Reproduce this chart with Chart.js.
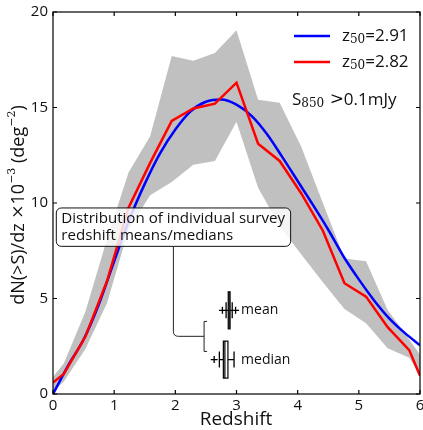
<!DOCTYPE html>
<html>
<head>
<meta charset="utf-8">
<script src="https://cdn.jsdelivr.net/npm/chart.js@4.4.1/dist/chart.umd.min.js"></script>
<style>
html, body { margin: 0; padding: 0; background: #fff; }
#wrap { width: 423px; height: 430px; position: relative; }
</style>
</head>
<body>
<div id="wrap"><canvas id="myChart"></canvas></div>
<script>
const SANS = '"Open Sans", "DejaVu Sans", sans-serif';
const SERIF = '"DejaVu Serif", "Liberation Serif", serif';

// redshift bins (17 bins over 0..6) plus the two ends
const binX = [0, 0.176, 0.529, 0.882, 1.235, 1.588, 1.941, 2.294, 2.647, 3.0, 3.353, 3.706, 4.059, 4.412, 4.765, 5.118, 5.471, 5.824, 6];
const bandUpper = [0.9, 1.6, 4.3, 8.1, 11.6, 13.5, 17.7, 17.45, 17.85, 19.05, 15.4, 15.25, 12.95, 10.0, 7.1, 6.95, 4.4, 2.85, 2.05];
const bandLower = [0.1, 0.65, 2.35, 4.75, 8.6, 10.4, 11.1, 12.0, 12.2, 14.25, 10.8, 8.8, 7.3, 5.85, 4.45, 3.7, 2.4, 1.9, 1.0];
const redY = [0.6, 1.05, 3.0, 5.9, 9.75, 12.1, 14.3, 14.95, 15.2, 16.3, 13.1, 12.2, 10.5, 8.55, 5.8, 5.1, 3.5, 2.3, 0.95];

// smooth model curve
const blueX = [0, 0.25, 0.5, 0.75, 1, 1.25, 1.5, 1.75, 2, 2.25, 2.5, 2.75, 3, 3.25, 3.5, 3.75, 4, 4.25, 4.5, 4.75, 5, 5.25, 5.5, 5.75, 6];
const blueY = [0, 1.5, 2.85, 4.7, 6.95, 9.15, 11.0, 12.6, 13.85, 14.8, 15.3, 15.42, 15.15, 14.55, 13.6, 12.4, 11.15, 9.9, 8.6, 7.2, 6.0, 4.9, 3.95, 3.2, 2.55];

const legendLabels = ['2.91', '2.82'];
const xTicks = [0, 1, 2, 3, 4, 5, 6];
const yTicks = [0, 5, 10, 15, 20];

// survey mean / median distributions (redshift)
const meanStats = { fliers: [2.77, 2.985], lo: 2.83, q1: 2.865, med: 2.88, q3: 2.895, hi: 2.93 };
const medianStats = { fliers: [2.635], lo: 2.72, q1: 2.785, med: 2.81, q3: 2.86, hi: 2.96 };

const pts = (xs, ys) => xs.map((v, i) => ({ x: v, y: ys[i] }));

function runsWidth(ctx, runs) {
    let w = 0;
    runs.forEach(r => { ctx.font = r[1]; w += ctx.measureText(r[0]).width; });
    return w;
}
function drawRuns(ctx, runs, x, y) {
    let cx = x;
    runs.forEach(r => {
        ctx.font = r[1];
        ctx.fillText(r[0], cx, y + (r[2] || 0));
        cx += ctx.measureText(r[0]).width;
    });
}

const overlay = {
    id: 'overlay',
    afterDatasetsDraw(chart) {
        const { ctx, scales: { x, y } } = chart;
        ctx.save();

        // annotation box
        const bx0 = x.getPixelForValue(0.054), bx1 = x.getPixelForValue(3.885);
        const by0 = y.getPixelForValue(9.74), by1 = y.getPixelForValue(7.73);
        ctx.beginPath();
        ctx.roundRect(bx0, by0, bx1 - bx0, by1 - by0, 5);
        ctx.fillStyle = 'rgba(255,255,255,0.82)';
        ctx.fill();
        ctx.lineWidth = 1;
        ctx.strokeStyle = '#111';
        ctx.stroke();
        ctx.fillStyle = '#111';
        ctx.textBaseline = 'middle';
        ctx.textAlign = 'left';
        const line1 = 'Distribution of individual survey';
        ctx.font = '14px ' + SANS;
        const fs = 14 * 224 / ctx.measureText(line1).width;
        ctx.font = fs.toFixed(2) + 'px ' + SANS;
        ctx.fillText(line1, bx0 + 5, by0 + 10.5);
        ctx.fillText('redshift means/medians', bx0 + 5, by0 + 28);

        // connector and bracket
        const cx = x.getPixelForValue(1.968);
        const cy = y.getPixelForValue(3.02);
        const brx = x.getPixelForValue(2.47);
        ctx.beginPath();
        ctx.moveTo(cx, by1);
        ctx.lineTo(cx, cy - 5);
        ctx.quadraticCurveTo(cx, cy, cx + 5, cy);
        ctx.lineTo(brx, cy);
        ctx.moveTo(brx + 3, y.getPixelForValue(3.8));
        ctx.lineTo(brx, y.getPixelForValue(3.8));
        ctx.lineTo(brx, y.getPixelForValue(2.23));
        ctx.lineTo(brx + 3, y.getPixelForValue(2.23));
        ctx.strokeStyle = '#222';
        ctx.lineWidth = 1;
        ctx.stroke();

        // box plots
        const drawBox = (s, yv, label) => {
            const py = y.getPixelForValue(yv);
            const h = 18.5, cap = 8;
            ctx.strokeStyle = '#000';
            ctx.lineWidth = 1.3;
            ctx.beginPath();
            ctx.moveTo(x.getPixelForValue(s.lo), py);
            ctx.lineTo(x.getPixelForValue(s.q1), py);
            ctx.moveTo(x.getPixelForValue(s.q3), py);
            ctx.lineTo(x.getPixelForValue(s.hi), py);
            [s.lo, s.hi].forEach(v => {
                const px = x.getPixelForValue(v);
                ctx.moveTo(px, py - cap);
                ctx.lineTo(px, py + cap);
            });
            s.fliers.forEach(v => {
                const px = x.getPixelForValue(v);
                ctx.moveTo(px - 3.5, py);
                ctx.lineTo(px + 3.5, py);
                ctx.moveTo(px, py - 3.5);
                ctx.lineTo(px, py + 3.5);
            });
            ctx.stroke();
            const q1 = x.getPixelForValue(s.q1), q3 = x.getPixelForValue(s.q3);
            ctx.lineWidth = 1.2;
            ctx.strokeRect(q1, py - h, q3 - q1, 2 * h);
            ctx.beginPath();
            ctx.moveTo(x.getPixelForValue(s.med), py - h);
            ctx.lineTo(x.getPixelForValue(s.med), py + h);
            ctx.stroke();
            ctx.font = '14px ' + SANS;
            ctx.fillStyle = '#111';
            ctx.fillText(label, x.getPixelForValue(3.075), py);
        };
        drawBox(meanStats, 4.38, 'mean');
        drawBox(medianStats, 1.8, 'median');

        // legend
        const lx0 = 294, lx1 = 330;
        [['#0000ff', 36], ['#ff0000', 62]].forEach((c, i) => {
            ctx.strokeStyle = c[0];
            ctx.lineWidth = 2.5;
            ctx.beginPath();
            ctx.moveTo(lx0, c[1]);
            ctx.lineTo(lx1, c[1]);
            ctx.stroke();
            ctx.fillStyle = '#111';
            drawRuns(ctx, [
                ['z', '17px ' + SANS],
                ['50', '12px ' + SERIF, 4],
                ['=' + legendLabels[i], '17px ' + SANS]
            ], 342, c[1]);
        });
        drawRuns(ctx, [
            ['S', '17px ' + SANS],
            ['850', '12px ' + SERIF, 4],
            [' >', '17px ' + SERIF],
            ['0.1mJy', '17px ' + SANS]
        ], 292, 100);
        ctx.restore();
    },
    afterDraw(chart) {
        const { ctx, chartArea: a, scales: { x, y } } = chart;
        ctx.save();
        ctx.strokeStyle = '#000';
        ctx.lineWidth = 1.2;
        ctx.strokeRect(a.left, a.top, a.right - a.left, a.bottom - a.top);
        ctx.beginPath();
        xTicks.forEach(v => {
            const px = x.getPixelForValue(v);
            ctx.moveTo(px, a.bottom); ctx.lineTo(px, a.bottom - 4);
            ctx.moveTo(px, a.top); ctx.lineTo(px, a.top + 4);
        });
        yTicks.forEach(v => {
            const py = y.getPixelForValue(v);
            ctx.moveTo(a.left, py); ctx.lineTo(a.left + 4, py);
            ctx.moveTo(a.right, py); ctx.lineTo(a.right - 4, py);
        });
        ctx.stroke();

        // axis titles
        ctx.fillStyle = '#111';
        ctx.textBaseline = 'middle';
        ctx.textAlign = 'center';
        ctx.font = '19px ' + SANS;
        ctx.fillText('Redshift', 236, 420);

        ctx.textAlign = 'left';
        const runs = [
            ['dN(>S)/dz ', '18px ' + SANS],
            ['\u00d7', '17px ' + SERIF],
            ['10', '18px ' + SANS],
            ['\u22123', '11px ' + SERIF, -7],
            [' (deg', '18px ' + SANS],
            ['\u22122', '11px ' + SERIF, -7],
            [')', '18px ' + SANS]
        ];
        ctx.translate(19, 205);
        ctx.rotate(-Math.PI / 2);
        drawRuns(ctx, runs, -runsWidth(ctx, runs) / 2, 0);
        ctx.restore();
    }
};

const ctx = document.getElementById('myChart');

new Chart(ctx, {
    type: 'line',
    data: {
        datasets: [{
            data: pts(binX, bandLower),
            borderColor: 'rgba(0,0,0,0)',
            borderWidth: 0,
            pointRadius: 0,
            fill: false,
            order: 3
        },
        {
            data: pts(binX, bandUpper),
            borderColor: 'rgba(0,0,0,0)',
            backgroundColor: '#c0c0c0',
            borderWidth: 0,
            pointRadius: 0,
            fill: '-1',
            order: 2
        },
        {
            data: pts(blueX, blueY),
            borderColor: '#0000ff',
            borderWidth: 2.5,
            pointRadius: 0,
            cubicInterpolationMode: 'monotone',
            fill: false,
            order: 1
        },
        {
            data: pts(binX, redY),
            borderColor: '#ff0000',
            borderWidth: 2.5,
            pointRadius: 0,
            tension: 0,
            fill: false,
            order: 0
        }]
    },
    options: {
        responsive: true,
        maintainAspectRatio: false,
        animation: false,
        layout: { padding: { left: 0, top: 12, right: 3, bottom: 0 } },
        plugins: {
            legend: { display: false },
            tooltip: { enabled: false }
        },
        scales: {
            x: {
                type: 'linear',
                min: 0,
                max: 6,
                grid: { display: false, drawTicks: false },
                border: { display: false },
                ticks: { stepSize: 1, padding: 3, color: '#111', font: { family: SANS, size: 15 } },
                afterFit: s => { s.height = 36; s.paddingLeft = 0; s.paddingRight = 0; }
            },
            y: {
                type: 'linear',
                min: 0,
                max: 20,
                grid: { display: false, drawTicks: false },
                border: { display: false },
                ticks: { stepSize: 5, padding: 5, color: '#111', font: { family: SANS, size: 15 } },
                afterFit: s => { s.width = 53; s.paddingTop = 0; s.paddingBottom = 0; }
            }
        }
    },
    plugins: [overlay]
});
</script>
</body>
</html>
